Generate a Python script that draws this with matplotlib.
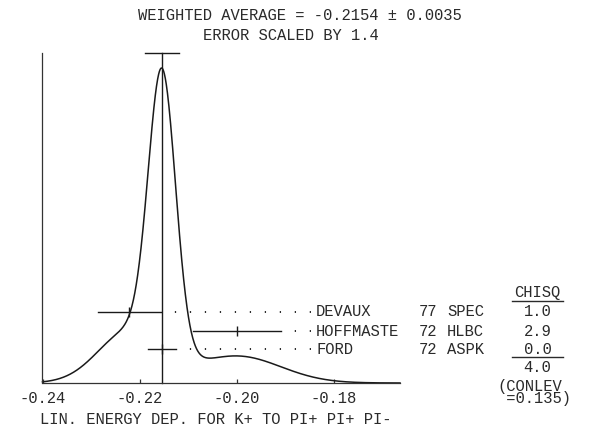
import numpy as np
import matplotlib
matplotlib.use("Agg")
import matplotlib.pyplot as plt

# ---- data ----
names = ["DEVAUX", "HOFFMASTE", "FORD"]
years = ["77", "72", "72"]
techs = ["SPEC", "HLBC", "ASPK"]
values = [-0.2221, -0.200, -0.2154]
errors = [0.0065, 0.009, 0.0028]
chisq = ["1.0", "2.9", "0.0"]
chisq_total = "4.0"
conlev = "0.135"
avg = -0.2154
avg_err = 0.0035
err_scale = "1.4"
xticks = [-0.24, -0.22, -0.20, -0.18]
xticklabels = ["-0.24", "-0.22", "-0.20", "-0.18"]
xlabel = "LIN. ENERGY DEP. FOR K+ TO PI+ PI+ PI-"

# ---- style ----
W, H = 610, 429
FONT = ["Liberation Mono", "DejaVu Sans Mono"]
FS = 11.2
TC = "#2a2a2a"
LC = "#1a1a1a"

fig = plt.figure(figsize=(W / 100, H / 100), dpi=100)
fx = lambda px: px / W
fy = lambda py: 1 - py / H

ax_left, ax_right, ax_bot, ax_top = 42.5, 400, 383, 53
ax = fig.add_axes([fx(ax_left), fy(ax_bot), (ax_right - ax_left) / W, (ax_bot - ax_top) / H])
ppu = 4860.0  # pixels per unit
x0 = -0.24
x1 = x0 + (ax_right - ax_left) / ppu
ax.set_xlim(x0, x1)

# ideogram: gaussians with area ~ 1/sigma
xs = np.linspace(x0, x1, 1500)
ys = np.zeros_like(xs)
for v, s in zip(values, errors):
    ys += (1 / s**2) * np.exp(-0.5 * ((xs - v) / s) ** 2)
peak = ys.max()
ax.set_ylim(0, peak * (ax_bot - ax_top) / 315.0)
ax.plot(xs, ys, color=LC, lw=1.1, clip_on=False)

# weighted average line and error bar
ax.plot([avg, avg], [0, 1], color=LC, lw=1.0, transform=ax.get_xaxis_transform(), clip_on=False)
ax.plot([avg - avg_err, avg + avg_err], [1, 1], color=LC, lw=1.0,
        transform=ax.get_xaxis_transform(), clip_on=False)

# measurements
row_py = [312, 331, 349]
dots_end = x0 + (311 - ax_left) / ppu
tr = ax.get_xaxis_transform()
for v, s, py in zip(values, errors, row_py):
    yy = (ax_bot - py) / (ax_bot - ax_top)
    ax.plot([v - s, v + s], [yy, yy], color=LC, lw=1.0, transform=tr, clip_on=False)
    ax.plot([v], [yy], marker="|", markersize=7, mew=1.0, color=LC, transform=tr, clip_on=False)
    # dotted leader drawn from the label side so the last dot sits next to the name
    ax.plot([dots_end, v + s + 0.0022], [yy, yy], color=LC, lw=1.3,
            linestyle=(0, (0.7, 7.6)), transform=tr, clip_on=False)

# labels table
for n, yr, t, c, py in zip(names, years, techs, chisq, row_py):
    fig.text(fx(316), fy(py), n, family=FONT, fontsize=FS, color=TC, ha="left", va="center")
    fig.text(fx(419), fy(py), yr, family=FONT, fontsize=FS, color=TC, ha="left", va="center")
    fig.text(fx(447), fy(py), t, family=FONT, fontsize=FS, color=TC, ha="left", va="center")
    fig.text(fx(537.5), fy(py), c, family=FONT, fontsize=FS, color=TC, ha="center", va="center")

fig.text(fx(537.5), fy(293), "CHISQ", family=FONT, fontsize=FS, color=TC, ha="center", va="center")
fig.add_artist(plt.Line2D([fx(512), fx(563)], [fy(301), fy(301)], color=TC, lw=1.0))
fig.add_artist(plt.Line2D([fx(512), fx(563)], [fy(357), fy(357)], color=TC, lw=1.0))
fig.text(fx(537.5), fy(368), chisq_total, family=FONT, fontsize=FS, color=TC, ha="center", va="center")
fig.text(fx(497), fy(392.5), "(CONLEV\n =" + conlev + ")", family=FONT, fontsize=FS, color=TC,
         ha="left", va="center", multialignment="left", linespacing=0.78)

# titles
fig.text(fx(300), fy(15), f"WEIGHTED AVERAGE = {avg:.4f} \u00b1 {avg_err:.4f}",
         family=FONT, fontsize=FS, color=TC, ha="center", va="center")
fig.text(fx(291), fy(36), f"ERROR SCALED BY {err_scale}",
         family=FONT, fontsize=FS, color=TC, ha="center", va="center")
fig.text(fx(40), fy(419), xlabel, family=FONT, fontsize=FS, color=TC, ha="left", va="center")

# axes styling
for side in ["top", "right"]:
    ax.spines[side].set_visible(False)
for side in ["left", "bottom"]:
    ax.spines[side].set_color("#333333")
    ax.spines[side].set_linewidth(0.9)
ax.set_yticks([])
ax.set_xticks(xticks)
ax.set_xticklabels(xticklabels, family=FONT, fontsize=FS, color=TC)
ax.tick_params(axis="x", direction="in", length=3, width=0.9, color="#333333", pad=5.5)
ax.patch.set_alpha(0)

fig.savefig("out.png", dpi=100, facecolor="white")
